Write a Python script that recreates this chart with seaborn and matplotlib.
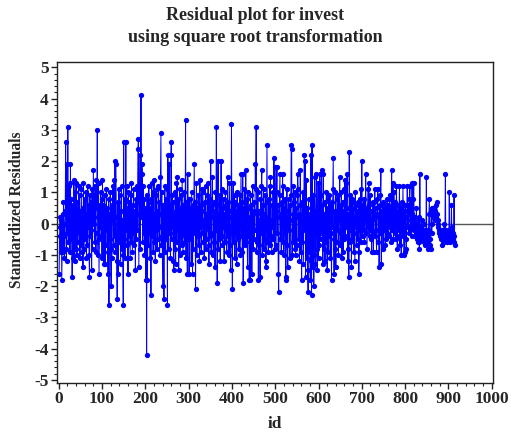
import matplotlib
matplotlib.use("Agg")
import matplotlib.pyplot as plt
from matplotlib.ticker import MultipleLocator
import seaborn as sns
import pandas as pd
import numpy as np

# Standardized residuals (in tenths), by id blocks
resid_001_100 = [
    -16, -4, 2, -1, -9, 1, -18, -6, 3, -9,
    7, -4, -11, 0, 4, 26, -8, -12, 19, -3,
    31, -6, 12, 2, 13, -9, 19, -5, 8, -2,
    -17, 6, 3, -11, 14, -4, -12, 10, -8, 13,
    -3, -10, 7, 0, -6, 12, -2, 9, -11, 4,
    -7, 11, 1, -9, 5, -14, 13, -8, 2, 8,
    -5, 0, 10, -11, 3, -7, 12, -1, 6, -10,
    -17, 9, -4, -2, 7, -15, 11, -8, 4, 17,
    0, 9, -6, 12, -3, -9, 14, 5, 30, -10,
    2, 13, -16, -5, 6, -1, 10, -4, 8, -11]
resid_101_200 = [
    14, -3, 6, -13, 2, 9, -13, 4, -7, 11,
    -2, 5, -9, -16, 8, -26, 3, -5, 10, -8,
    -20, 6, -11, 1, 12, 5, -7, 14, -4, 20,
    -9, 19, 2, -12, -24, 7, -16, 0, 11, -6,
    9, -3, -13, 4, 12, -8, 1, -10, -26, 26,
    -5, 8, -11, 3, 26, -2, 12, -7, 5, -16,
    10, -4, 7, -1, -11, 9, -6, 13, 2, -9,
    6, -3, 11, -7, 4, 0, -15, 8, -5, 12,
    -2, 7, 24, 27, -14, 3, 22, -8, 10, 41,
    2, 19, 16, -6, 12, -3, 8, -10, 5, -1]
resid_201_300 = [
    -18, 4, -42, 9, -18, 2, -7, 12, -3, 7,
    -11, 5, -23, 8, 13, -4, 10, -9, 1, 14,
    -6, 3, -12, 9, -2, 11, -8, 4, -5, 12,
    -1, 7, -10, 3, 15, 29, -7, 10, -4, -20,
    6, -3, -24, 2, 12, -9, 8, -5, 4, 11,
    -26, 22, 1, -8, 19, -3, 6, -11, 22, 26,
    -5, 9, -1, 7, -12, -15, 3, -8, 10, -13,
    4, 13, -6, 15, -2, 8, -15, 1, 11, -10,
    5, -4, 9, -7, 14, 2, -9, 6, -3, 10,
    -6, 4, 33, -11, 7, -2, -16, 16, -5, 8]
resid_301_400 = [
    -16, 3, 8, -5, 5, -13, 10, -2, -16, 6,
    -8, 4, 19, -3, 7, -21, 1, 13, -10, 5,
    -4, 9, -7, 2, -12, 14, -1, 6, -9, 11,
    -3, 4, 10, -6, 1, -11, 7, -2, 12, -8,
    3, -5, 9, -1, 13, -7, -13, 5, 8, -4,
    20, -9, 2, 6, 15, -3, -10, 7, -6, 4,
    -14, 10, -2, 31, 1, -19, 6, 20, -8, 3,
    -5, 9, -12, 2, 20, -4, 11, -7, 5, -1,
    8, -12, 3, -6, 10, -2, 6, -9, 1, 15,
    -4, 7, -10, 13, 2, -7, -15, 4, 32, -3]
resid_401_500 = [
    -21, 5, 13, -6, 2, 9, -11, 7, -3, 4,
    -13, 10, -5, 1, 6, -8, 3, 9, -10, 2,
    16, -4, 7, -9, 16, -19, 5, -2, 11, -7,
    3, 17, -6, 8, -1, -14, 10, -4, 5, -18,
    2, -18, 9, -3, 6, -16, 1, 12, -8, 4,
    -5, 7, -2, 19, 11, 31, -9, 3, -6, 10,
    -18, 4, -7, 1, -17, 8, -3, 12, 17, -10,
    6, -2, 11, -8, 3, -5, 9, -12, -14, 7,
    25, -6, 2, -9, 8, -3, 12, -7, 15, 1,
    -4, -9, 6, -1, 10, -5, 21, 3, -8, 18]
resid_501_600 = [
    4, -7, 10, 18, -3, 6, -16, -22, 2, 9,
    16, -5, 3, -9, 7, -1, 16, -6, 12, -10,
    5, -3, 8, -18, -17, 2, 11, -7, -14, 4,
    8, -2, 6, -11, 1, 9, 25, 24, -10, 3,
    -6, 12, 7, -4, -8, 10, -10, 2, 5, -7,
    9, 16, 11, -5, 3, -12, 6, 17, -9, 2,
    -18, 7, -6, 10, -13, 4, 22, -2, 20, -17,
    1, 14, -11, 5, -15, -22, 8, -9, -4, 3,
    -18, 22, -12, -23, 25, -6, -14, 9, -20, -10,
    15, -3, -13, 4, 16, -8, -15, 2, 13, -11]
resid_601_700 = [
    4, -7, 16, 2, -5, 9, 17, -3, 6, -13,
    16, -8, 3, -2, -12, 7, -6, 10, 1, -15,
    5, -9, 8, -4, 9, 2, -11, 6, -3, -18,
    7, -1, 11, 21, -5, -16, 4, -8, 10, -14,
    3, -6, 8, -2, 9, -10, 1, 5, 15, -7,
    6, -3, 10, -11, 2, 7, -9, 4, -5, 11,
    14, -4, 13, -1, 5, 16, -8, -12, 3, -17,
    23, -6, 9, -2, 4, -14, 8, -5, 1, 7,
    -9, 5, -3, -12, 10, -1, 6, -7, 3, 4,
    -5, 7, -16, -9, 8, -2, 11, -6, 3, 20]
resid_701_800 = [
    3, -4, 6, -2, 8, -6, 1, 4, 16, -3,
    5, -8, 2, 11, -1, 13, 6, -4, 9, -2,
    4, -5, -9, 1, 7, -3, -9, 7, 2, 11,
    -4, 5, -2, -9, 3, 8, 11, -6, 2, -14,
    6, -3, 9, 17, -13, 4, -1, 7, -8, 3,
    5, -2, 6, -7, 1, 4, -5, 8, -3, 2,
    6, -4, 3, 9, -1, 5, -6, 8, 17, -2,
    4, 13, -5, 10, 2, -3, 7, -5, 1, 12,
    -4, -8, 3, 6, -2, 4, 12, -7, 2, 5,
    -10, 3, 7, -4, 12, 1, -10, 4, -9, 6]
resid_801_900 = [
    2, -5, -8, 4, 12, -1, 6, -3, 3, 8,
    12, -2, 7, 1, -4, 13, 3, -1, 8, 13,
    -2, 2, -4, 1, -3, 5, -5, 0, -2, -6,
    2, -6, -8, 16, -1, -3, -5, 1, -4, -2,
    -5, -3, 0, -6, -7, -2, -5, -4, 15, -3,
    -6, -8, -4, -2, 3, 8, -7, -5, -8, 4,
    0, -3, 5, 2, 5, 3, 4, 1, 3, 4,
    6, 2, 7, 3, 1, 0, -1, -2, -3, -4,
    -2, -5, -3, -4, -7, -2, -5, -3, -6, 0,
    -4, -2, 16, -5, -3, -6, -4, -2, -5, -3]
resid_901_915 = [
    -4, 10, -6, -3, -5, -2, 6, -4, -1, -5, -3, -6, 9, -4, -7]

title_lines = ["Residual plot for invest", "using square root transformation"]
x_label = "id"
y_label = "Standardized Residuals"
x_ticks = [0, 100, 200, 300, 400, 500, 600, 700, 800, 900, 1000]
y_ticks = [-5, -4, -3, -2, -1, 0, 1, 2, 3, 4, 5]

resid_tenths = (resid_001_100 + resid_101_200 + resid_201_300 + resid_301_400 +
                resid_401_500 + resid_501_600 + resid_601_700 + resid_701_800 +
                resid_801_900 + resid_901_915)
ids = list(range(1, len(resid_tenths) + 1))
df = pd.DataFrame({"id": ids, "resid": np.array(resid_tenths) / 10.0})

sns.set_style("white")
plt.rcParams["font.family"] = ["Liberation Serif", "DejaVu Serif"]
plt.rcParams["font.weight"] = "bold"

fig = plt.figure(figsize=(5.11, 4.38), dpi=100)
ax = fig.add_axes([57 / 511, 1 - 383 / 438, (493 - 57) / 511, (383 - 62) / 438])

ax.axhline(0, color="#555555", lw=1.0, zorder=1)
sns.lineplot(data=df, x="id", y="resid", ax=ax, color="#0000FF", lw=0.7,
             marker="o", markersize=3.8, markeredgewidth=0, estimator=None,
             sort=False, zorder=2)

ax.set_xlim(-4, 1003)
ax.set_ylim(-5.1, 5.17)
ax.set_xticks(x_ticks)
ax.set_yticks(y_ticks)
ax.set_xticklabels([str(t) for t in x_ticks])
ax.set_yticklabels([str(t) for t in y_ticks])
ax.xaxis.set_minor_locator(MultipleLocator(20))
ax.yaxis.set_minor_locator(MultipleLocator(0.2))
ax.tick_params(axis="both", which="major", direction="out", length=4, width=1,
               labelsize=12.5, color="#222222", pad=2,
               bottom=True, left=True, top=False, right=False)
ax.tick_params(axis="both", which="minor", direction="out", length=2.5, width=0.8,
               color="#222222", bottom=True, left=True, top=False, right=False)
for lab in ax.get_xticklabels() + ax.get_yticklabels():
    lab.set_fontweight("bold")
for s in ax.spines.values():
    s.set_color("#222222")
    s.set_linewidth(1.0)

ax.set_xlabel(x_label, fontsize=12.5, fontweight="bold", labelpad=6)
ax.set_ylabel(y_label, fontsize=11.2, fontweight="bold")
ax.yaxis.set_label_coords(-0.073, 0.54)

fig.text(0.5, 1 - 15 / 438, title_lines[0], ha="center", va="center",
         fontsize=13, fontweight="bold")
fig.text(0.5, 1 - 37 / 438, title_lines[1], ha="center", va="center",
         fontsize=13, fontweight="bold")

fig.savefig("out.png", dpi=100)
